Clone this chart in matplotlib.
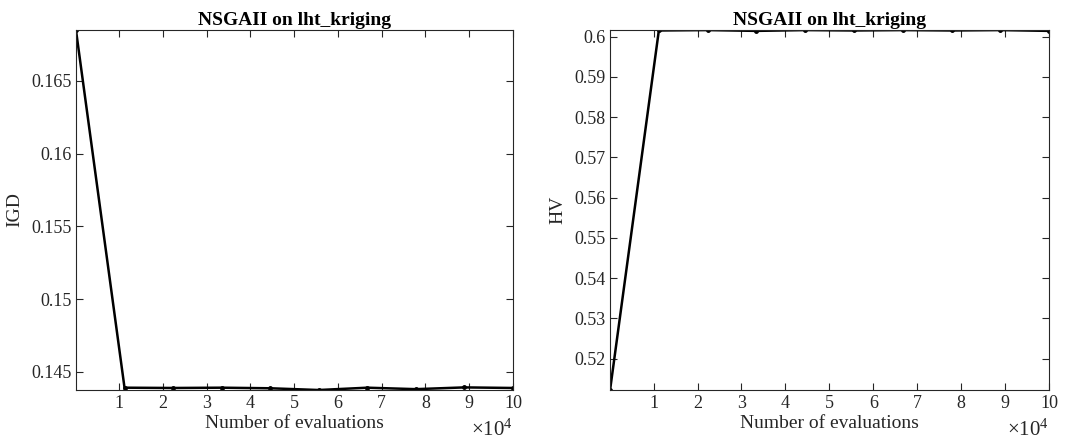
import matplotlib.pyplot as plt
import numpy as np

# Datos
evals = [100, 11200, 22300, 33400, 44500, 55600, 66700, 77800, 88900, 100000]
igd = [0.1685, 0.14390, 0.14388, 0.14390, 0.14386, 0.14374, 0.14390, 0.14380, 0.14392, 0.14388]
hv = [0.5122, 0.6015, 0.6016, 0.6014, 0.6016, 0.6015, 0.6016, 0.6015, 0.6016, 0.6014]
xticks = [10000, 20000, 30000, 40000, 50000, 60000, 70000, 80000, 90000, 100000]
xtlabels = ["1", "2", "3", "4", "5", "6", "7", "8", "9", "10"]
igd_ticks = [0.145, 0.15, 0.155, 0.16, 0.165]
igd_tlabels = ["0.145", "0.15", "0.155", "0.16", "0.165"]
hv_ticks = [0.52, 0.53, 0.54, 0.55, 0.56, 0.57, 0.58, 0.59, 0.6]
hv_tlabels = ["0.52", "0.53", "0.54", "0.55", "0.56", "0.57", "0.58", "0.59", "0.6"]
titulo = "NSGAII on lht_kriging"

plt.rcParams['font.family'] = ['Liberation Serif', 'DejaVu Serif']
plt.rcParams['mathtext.fontset'] = 'custom'
plt.rcParams['mathtext.rm'] = 'Liberation Serif'
plt.rcParams['mathtext.it'] = 'Liberation Serif:italic'

fig = plt.figure(figsize=(10.79, 4.43), dpi=100)
ax1 = fig.add_axes([0.0704, 0.1196, 0.405, 0.8125])
ax2 = fig.add_axes([0.5654, 0.1196, 0.4069, 0.8125])

def dibuja(ax, y, yt, ytl, ylab):
	ax.plot(evals, y, color='black', linewidth=1.8, marker='.', markersize=5)
	ax.set_xlim(min(evals), max(evals))
	ax.set_ylim(min(y), max(y))
	ax.set_xticks(xticks)
	ax.set_xticklabels(xtlabels)
	ax.set_yticks(yt)
	ax.set_yticklabels(ytl)
	ax.tick_params(direction='in', top=True, right=True, labelsize=13, length=5, width=0.8, colors='#262626')
	ax.tick_params(axis='x', pad=3.5)
	ax.tick_params(axis='y', pad=3)
	for s in ax.spines.values():
		s.set_linewidth(0.8)
		s.set_color('#262626')
	ax.set_title(titulo, fontsize=14, fontweight='bold', pad=4)
	ax.set_xlabel("Number of evaluations", fontsize=14, labelpad=2, color='#262626')
	ax.set_ylabel(ylab, fontsize=14, labelpad=6, color='#262626')
	ax.text(1.0, -0.082, r"$\mathrm{\times10^{4}}$", transform=ax.transAxes, ha='right', va='top', fontsize=15, color='#262626')

dibuja(ax1, igd, igd_ticks, igd_tlabels, "IGD")
dibuja(ax2, hv, hv_ticks, hv_tlabels, "HV")

plt.savefig("out.png", dpi=100)
